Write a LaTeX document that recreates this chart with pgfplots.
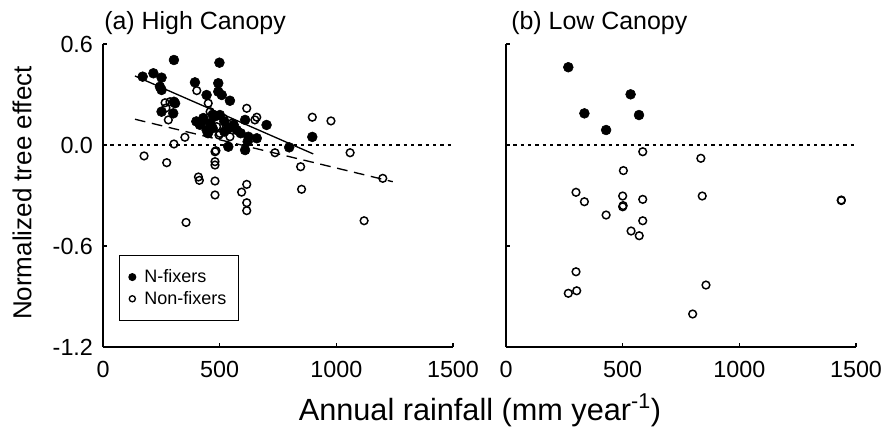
\documentclass[border=0pt]{standalone}
\usepackage{pgfplots}
\pgfplotsset{compat=1.18}
\usepackage{fontspec}
\setmainfont{Liberation Sans}
\begin{document}
\begin{tikzpicture}
\path[use as bounding box] (-77.25pt,-63.75pt) rectangle (585.75pt,260.25pt);
\pgfplotsset{
 panel/.style={
  scale only axis, width=262.5pt, height=227.25pt,
  xmin=0,xmax=1500,ymin=-1.2,ymax=0.6,
  axis x line=bottom, axis y line=left,
  axis line style={-, line width=1pt},
  tick align=inside, major tick length=3pt, tick style={line width=0.9pt,black},
  xtick={0,500,1000,1500}, ytick={-1.2,-0.6,0,0.6},
  xticklabels={0,500,1000,1500},
  tick label style={font=\fontsize{17.5}{20}\selectfont},
  xticklabel style={yshift=-7pt},
  yticklabel style={xshift=-4pt},
  clip=false,
 },
 fix/.style={only marks, mark=*, mark size=3.7pt, mark options={fill=black, draw=black}},
 non/.style={only marks, mark=o, mark size=2.9pt, mark options={fill=white, draw=black, line width=1.1pt}},
}
\begin{axis}[panel, at={(0,0)}, anchor=south west,
  yticklabels={-1.2,-0.6,0.0,0.6},
  legend style={at={(0.0457,0.3036)}, anchor=north west, draw=black, line width=0.8pt,
    font=\fontsize{13.5}{16}\selectfont, row sep=1pt, inner xsep=7pt, inner ysep=8.5pt,
    cells={anchor=west}, /tikz/every odd column/.append style={column sep=4.5pt}},
  legend cell align=left]
\addplot[fix, forget plot] coordinates {
(170,0.406) (216,0.426) (251,0.40) (304,0.505) (244,0.346) (251,0.327)
(499,0.489) (394,0.372) (494,0.367) (494,0.317) (509,0.297) (444,0.297)
(544,0.263) (304,0.257) (251,0.198) (301,0.188) (309,0.248) (423,0.138)
(444,0.089) (501,0.178) (573,0.089) (537,0.099) (609,0.149) (701,0.119)
(623,0.049) (659,0.04) (537,-0.01) (609,-0.03) (798,-0.014) (897,0.048)
(415,0.12) (430,0.16) (460,0.13) (470,0.10) (480,0.17) (520,0.14)
(560,0.12) (590,0.07) (470,0.18) (450,0.07) (520,0.08) (400,0.14) (620,0.02)
};
\addplot[non, forget plot] coordinates {
(176,-0.065) (273,-0.105) (304,0.006) (351,0.046) (480,-0.04) (480,-0.099)
(480,-0.119) (409,-0.19) (413,-0.21) (480,-0.214) (480,-0.297) (356,-0.46)
(616,-0.234) (594,-0.28) (616,-0.343) (616,-0.39) (737,-0.046) (497,0.059)
(402,0.323) (266,0.251) (287,0.257) (280,0.149) (451,0.248) (616,0.218)
(651,0.149) (659,0.165) (484,-0.034) (487,0.109) (516,0.159) (551,0.129)
(501,0.069) (544,0.049) (459,0.198) (897,0.165) (977,0.143) (1059,-0.046)
(847,-0.129) (851,-0.263) (1199,-0.198) (1119,-0.45) (270,0.22) (530,0.11)
};
\addplot[black, line width=1pt, forget plot] coordinates {(137,0.41) (901,-0.053)};
\addplot[black, line width=1pt, dash pattern=on 8pt off 5pt, forget plot] coordinates {(137,0.153) (1242,-0.218)};
\addplot[black, line width=1.1pt, dash pattern=on 2.5pt off 3pt, forget plot] coordinates {(0,0) (1500,0)};
\addlegendimage{only marks, mark=*, mark size=2.6pt, mark options={fill=black}}
\addlegendentry{N-fixers}
\addlegendimage{only marks, mark=o, mark size=2.3pt, mark options={line width=1pt}}
\addlegendentry{Non-fixers}
\end{axis}
\begin{axis}[panel, at={(302.25pt,0)}, anchor=south west, yticklabels={}]
\addplot[fix] coordinates {(267,0.462) (336,0.188) (429,0.089) (534,0.301) (570,0.178)};
\addplot[non] coordinates {
(586,-0.04) (503,-0.152) (300,-0.281) (336,-0.337) (429,-0.416) (500,-0.303)
(500,-0.367) (502,-0.36) (586,-0.323) (586,-0.45) (536,-0.511) (571,-0.539)
(300,-0.753) (303,-0.866) (267,-0.881) (800,-1.004) (835,-0.079) (841,-0.303)
(1437,-0.327) (1437,-0.33) (857,-0.832)};
\addplot[black, line width=1.1pt, dash pattern=on 2.5pt off 3pt] coordinates {(0,0) (1500,0)};
\end{axis}
\node[anchor=base west, font=\fontsize{18.7}{22}\selectfont, inner sep=0pt] at (0.75pt,237.75pt) {(a) High Canopy};
\node[anchor=base west, font=\fontsize{18.7}{22}\selectfont, inner sep=0pt] at (306pt,237.75pt) {(b) Low Canopy};
\node[font=\fontsize{23}{27}\selectfont] at (282.75pt,-47.25pt) {Annual rainfall (mm year\textsuperscript{-1})};
\node[font=\fontsize{19.5}{23}\selectfont, rotate=90] at (-60.75pt,115.5pt) {Normalized tree effect};
\end{tikzpicture}
\end{document}
